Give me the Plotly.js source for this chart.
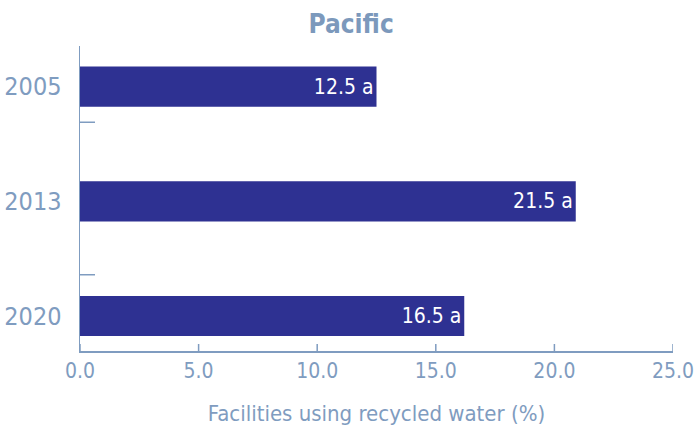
<!DOCTYPE html>
<html>
<head>
<meta charset="utf-8">
<script src="https://cdn.plot.ly/plotly-3.0.1.min.js"></script>
<style>html,body{margin:0;padding:0;background:#fff;}#chart{width:694px;height:430px;}</style>
</head>
<body>
<div id="chart"></div>
<script>
var years = ['2005', '2013', '2020'];
var values = [12.5, 20.9, 16.2];
var labels = ['12.5 a', '21.5 a', '16.5 a'];
var xTickVals = [0, 5, 10, 15, 20, 25];
var xTickText = ['0.0', '5.0', '10.0', '15.0', '20.0', '25.0'];

var axisColor = '#7F9CC0';
var font = '"DejaVu Sans Condensed", "Liberation Sans Narrow", "Liberation Sans", Arial, sans-serif';

var trace = {
  type: 'bar',
  orientation: 'h',
  y: years,
  x: values,
  text: labels,
  textposition: 'inside',
  insidetextanchor: 'end',
  textfont: {color: '#ffffff', size: 21, family: font},
  marker: {color: '#2E3192'},
  width: 0.35,
  hoverinfo: 'none',
  cliponaxis: false
};

// y-axis divider ticks (pixel-length, drawn inward from the axis line)
function yTick(yp) {
  return {type: 'line', xref: 'paper', yref: 'paper', xsizemode: 'pixel', xanchor: 0,
          x0: 0, x1: 15, y0: yp, y1: yp, line: {color: axisColor, width: 1.5}};
}
// x-axis inside ticks at the tick values
function xTick(v) {
  return {type: 'line', xref: 'x', yref: 'paper', ysizemode: 'pixel', yanchor: 0,
          x0: v, x1: v, y0: 0, y1: 7, line: {color: axisColor, width: 1.5}};
}

var shapes = [yTick(0.750), yTick(0.250)].concat(xTickVals.map(xTick));

var layout = {
  width: 694, height: 430,
  margin: {l: 80, r: 21, t: 46, b: 79},
  paper_bgcolor: '#ffffff',
  plot_bgcolor: '#ffffff',
  showlegend: false,
  font: {family: font, color: axisColor},
  title: {
    text: '<b>Pacific</b>',
    font: {family: font, size: 26, color: '#7C99BC'},
    x: 0.506, xanchor: 'center',
    y: 0.945, yanchor: 'middle'
  },
  xaxis: {
    range: [0, 25.0001],
    tickmode: 'array',
    tickvals: xTickVals,
    ticktext: xTickText,
    ticks: '',
    showline: true,
    linecolor: axisColor,
    linewidth: 1.5,
    showgrid: false,
    zeroline: false,
    ticklabeloverflow: 'allow',
    tickfont: {family: font, size: 21, color: axisColor},
    title: {text: 'Facilities using recycled water (%)', font: {family: font, size: 22, color: axisColor}, standoff: 24}
  },
  yaxis: {
    type: 'category',
    categoryorder: 'array',
    categoryarray: years,
    range: [2.305, -0.354],
    ticks: '',
    showline: true,
    linecolor: axisColor,
    linewidth: 1.5,
    showgrid: false,
    zeroline: false,
    ticklabelstandoff: 12,
    tickfont: {family: font, size: 25, color: axisColor}
  },
  shapes: shapes
};

Plotly.newPlot('chart', [trace], layout, {staticPlot: true, displayModeBar: false});
</script>
</body>
</html>
